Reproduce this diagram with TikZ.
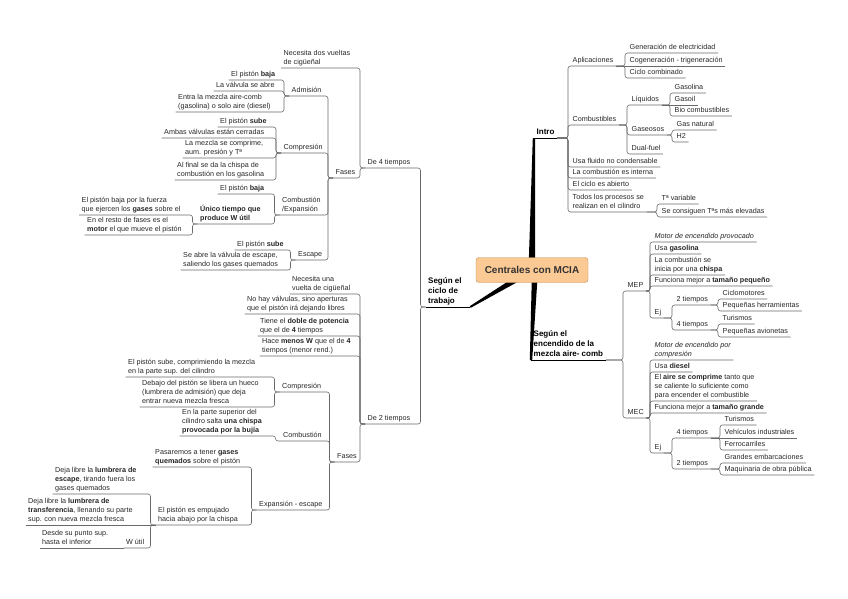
\documentclass[tikz,border=0pt]{standalone}
\usepackage{fontspec}
\setmainfont{Liberation Sans}
\usetikzlibrary{backgrounds}
\definecolor{rootfill}{HTML}{FBC994}
\definecolor{rootline}{HTML}{C08A52}
\definecolor{linkgray}{HTML}{6A6A6A}

\begin{document}
\begin{tikzpicture}[x=1pt, y=-1pt,
  topic/.style={font=\fontsize{7.2}{9}\selectfont, text=black!85, inner xsep=2.5pt, inner ysep=1.5pt,
    text depth=1.5pt, align=left, anchor=south west},
  main/.style={topic, font=\fontsize{8}{10}\selectfont\bfseries, text=black},
  root/.style={draw=rootline, fill=rootfill, rounded corners=3pt, minimum width=112pt, minimum height=25pt,
    font=\fontsize{10}{12}\selectfont\bfseries, text=black!80},
  link/.style={draw=linkgray, line width=0.6pt, rounded corners=2.5pt},
  trunk/.style={fill=black}]
  \useasboundingbox (0,0) rectangle (848,599);

  % centre and main branches
  \node[root] (root) at (532,270) {Centrales con MCIA};
  \node[main] (intro) at (534,138) {Intro};
  \node[main] (enc) at (531,360) {Según el\\encendido de la\\mezcla aire- comb};
  \node[main] (ciclo) at (425.5,307) {Según el\\ciclo de\\trabajo};

  \begin{scope}[on background layer]
    \fill[trunk] ([xshift=-3.5pt]root.center) -- ([xshift=3pt]root.center)
      -- ([xshift=1.2pt]intro.south west) -- ([xshift=-1.2pt]intro.south west) -- cycle;
    \fill[trunk] (root.center) -- ([xshift=6pt]root.center)
      -- ([xshift=1.2pt]enc.south west) -- ([xshift=-1.2pt]enc.south west) -- cycle;
    \fill[trunk] ([shift={(1.9,2.9)}]root.center) -- ([shift={(-1.9,-2.9)}]root.center)
      -- ([shift={(5.5,-0.8)}]ciclo.south east) -- ([shift={(6.5,0.8)}]ciclo.south east) -- cycle;
  \end{scope}
  \draw[link, draw=black] (intro.south west) -- (intro.south east);
  \draw[link, draw=black] (enc.south west) -- (enc.south east);
  \draw[link, draw=black] (ciclo.south west) -- ([xshift=6pt]ciclo.south east);

  % Intro
  \node[topic] (apl) at (570,66) {Aplicaciones};
  \node[topic] (comb) at (570,125) {Combustibles};
  \node[topic] (flu) at (570,167) {Usa fluido no condensable};
  \node[topic] (intc) at (570,178) {La combustión es interna};
  \node[topic] (abi) at (570,190) {El ciclo es abierto};
  \node[topic] (tod) at (570,212) {Todos los procesos se\\realizan en el cilindro};
  \foreach \kid in {apl,comb,flu,intc,abi,tod}
    \draw[link] (intro.south east) -- ([xshift=-2pt]\kid.south west |- intro.south east) |- (\kid.south east);

  \node[topic] (gen) at (627,53) {Generación de electricidad};
  \node[topic] (cog) at (627,66) {Cogeneración - trigeneración};
  \node[topic] (cic) at (627,78) {Ciclo combinado};
  \foreach \kid in {gen,cic}
    \draw[link] (apl.south east) -- ([xshift=-2pt]\kid.south west |- apl.south east) |- (\kid.south east);
  \draw[link] (apl.south east) -- (cog.south east);

  \node[topic] (liq) at (629,105) {Líquidos};
  \node[topic] (gas) at (629,135) {Gaseosos};
  \node[topic] (dual) at (629,154) {Dual-fuel};
  \foreach \kid in {liq,gas,dual}
    \draw[link] (comb.south east) -- ([xshift=-2pt]\kid.south west |- comb.south east) |- (\kid.south east);

  \node[topic] (gsl) at (672,93) {Gasolina};
  \node[topic] (gso) at (672,105) {Gasoil};
  \node[topic] (bio) at (672,116) {Bio combustibles};
  \foreach \kid in {gsl,bio}
    \draw[link] (liq.south east) -- ([xshift=-2pt]\kid.south west |- liq.south east) |- (\kid.south east);
  \draw[link] (liq.south east) -- (gso.south east);

  \node[topic] (gnat) at (674,130) {Gas natural};
  \node[topic] (h2) at (674,142) {H2};
  \foreach \kid in {gnat,h2}
    \draw[link] (gas.south east) -- ([xshift=-2pt]\kid.south west |- gas.south east) |- (\kid.south east);

  \node[topic] (tva) at (659,204) {Tª variable};
  \node[topic] (tel) at (659,217) {Se consiguen Tªs más elevadas};
  \foreach \kid in {tva,tel}
    \draw[link] (tod.south east) -- ([xshift=-2pt]\kid.south west |- tod.south east) |- (\kid.south east);

  % encendido
  \node[topic] (mep) at (625,291) {MEP};
  \node[topic] (mec) at (625,418) {MEC};
  \foreach \kid in {mep,mec}
    \draw[link] (enc.south east) -- ([xshift=-2pt]\kid.south west |- enc.south east) |- (\kid.south east);

  \node[topic] (mp1) at (652,242) {\itshape Motor de encendido provocado};
  \node[topic] (mp2) at (652,254) {Usa \textbf{gasolina}};
  \node[topic] (mp3) at (652,275) {La combustión se\\inicia por una \textbf{chispa}};
  \node[topic] (mp4) at (652,286) {Funciona mejor a \textbf{tamaño pequeño}};
  \node[topic] (mpej) at (652,318) {Ej};
  \foreach \kid in {mp1,mp2,mp3,mp4,mpej}
    \draw[link] (mep.south east) -- ([xshift=-2pt]\kid.south west |- mep.south east) |- (\kid.south east);

  \node[topic] (e2m) at (674,305) {2 tiempos};
  \node[topic] (e4m) at (674,330) {4 tiempos};
  \foreach \kid in {e2m,e4m}
    \draw[link] (mpej.south east) -- ([xshift=-2pt]\kid.south west |- mpej.south east) |- (\kid.south east);

  \node[topic] (cicl) at (720,299) {Ciclomotores};
  \node[topic] (peqh) at (720,311) {Pequeñas herramientas};
  \foreach \kid in {cicl,peqh}
    \draw[link] (e2m.south east) -- ([xshift=-2pt]\kid.south west |- e2m.south east) |- (\kid.south east);
  \node[topic] (tur1) at (720,324) {Turismos};
  \node[topic] (avi) at (720,337) {Pequeñas avionetas};
  \foreach \kid in {tur1,avi}
    \draw[link] (e4m.south east) -- ([xshift=-2pt]\kid.south west |- e4m.south east) |- (\kid.south east);

  \node[topic] (mc1) at (652,360) {\itshape Motor de encendido por\\\itshape compresión};
  \node[topic] (mc2) at (652,372) {Usa \textbf{diesel}};
  \node[topic] (mc3) at (652,401) {El \textbf{aire se comprime} tanto que\\se caliente lo suficiente como\\para encender el combustible};
  \node[topic] (mc4) at (652,413) {Funciona mejor a \textbf{tamaño grande}};
  \node[topic] (mcej) at (652,453) {Ej};
  \foreach \kid in {mc1,mc2,mc3,mc4,mcej}
    \draw[link] (mec.south east) -- ([xshift=-2pt]\kid.south west |- mec.south east) |- (\kid.south east);

  \node[topic] (f4) at (674,438) {4 tiempos};
  \node[topic] (f2) at (674,469) {2 tiempos};
  \foreach \kid in {f4,f2}
    \draw[link] (mcej.south east) -- ([xshift=-2pt]\kid.south west |- mcej.south east) |- (\kid.south east);

  \node[topic] (tur2) at (722,425) {Turismos};
  \node[topic] (veh) at (722,438) {Vehículos industriales};
  \node[topic] (fer) at (722,450) {Ferrocarriles};
  \foreach \kid in {tur2,fer}
    \draw[link] (f4.south east) -- ([xshift=-2pt]\kid.south west |- f4.south east) |- (\kid.south east);
  \draw[link] (f4.south east) -- (veh.south east);
  \node[topic] (gem) at (722,463) {Grandes embarcaciones};
  \node[topic] (maq) at (722,475) {Maquinaria de obra pública};
  \foreach \kid in {gem,maq}
    \draw[link] (f2.south east) -- ([xshift=-2pt]\kid.south west |- f2.south east) |- (\kid.south east);

  % ciclo de trabajo
  \node[topic] (d4) at (365,168) {De 4 tiempos};
  \node[topic] (d2) at (365,424) {De 2 tiempos};
  \foreach \kid in {d4,d2}
    \draw[link] (ciclo.south west) -- ++(-5pt,0) |- (\kid.south west);

  \node[topic] (nec4) at (281,68) {Necesita dos vueltas\\de cigüeñal};
  \node[topic] (fas4) at (333,178) {Fases};
  \foreach \kid in {nec4,fas4}
    \draw[link] (d4.south west) -- ++(-5pt,0) |- (\kid.south west);

  \node[topic] (adm) at (289,96) {Admisión};
  \node[topic] (comp4) at (281,153) {Compresión};
  \node[topic] (cbx) at (279.5,215) {Combustión\\/Expansión};
  \node[topic] (esc) at (295.5,260) {Escape};
  \foreach \kid in {adm,comp4,cbx,esc}
    \draw[link] (fas4.south west) -- ++(-5pt,0) |- (\kid.south west);

  \node[topic] (a1) at (228.5,80) {El pistón \textbf{baja}};
  \node[topic] (a2) at (213.5,91) {La válvula se abre};
  \node[topic] (a3) at (175.5,112) {Entra la mezcla aire-comb\\(gasolina) o solo aire (diesel)};
  \foreach \kid in {a1,a2,a3}
    \draw[link] (adm.south west) -- ++(-5pt,0) |- (\kid.south west);

  \node[topic] (c1) at (217.5,127) {El pistón \textbf{sube}};
  \node[topic] (c2) at (161.5,138) {Ambas válvulas están cerradas};
  \node[topic] (c3) at (182.5,158) {La mezcla se comprime,\\aum. presión y Tª};
  \node[topic] (c4) at (174.5,180) {Al final se da la chispa de\\combustión en los gasolina};
  \foreach \kid in {c1,c2,c3,c4}
    \draw[link] (comp4.south west) -- ++(-5pt,0) |- (\kid.south west);

  \node[topic] (x1) at (217.5,194) {El pistón \textbf{baja}};
  \node[topic] (uni) at (197.5,224) {\textbf{Único tiempo que}\\\textbf{produce W útil}};
  \foreach \kid in {x1,uni}
    \draw[link] (cbx.south west) -- ++(-5pt,0) |- (\kid.south west);

  \node[topic] (u1) at (79,215) {El pistón baja por la fuerza\\que ejercen los \textbf{gases} sobre el};
  \node[topic] (u2) at (84.5,235) {En el resto de fases es el\\\textbf{motor} el que mueve el pistón};
  \foreach \kid in {u1,u2}
    \draw[link] (uni.south west) -- ++(-5pt,0) |- (\kid.south west);

  \node[topic] (e1) at (234.5,250) {El pistón \textbf{sube}};
  \node[topic] (e2b) at (180.5,270) {Se abre la válvula de escape,\\saliendo los gases quemados};
  \foreach \kid in {e1,e2b}
    \draw[link] (esc.south west) -- ++(-5pt,0) |- (\kid.south west);

  \node[topic] (n2) at (289.5,294) {Necesita una\\vuelta de cigüeñal};
  \node[topic] (nov) at (244.5,314) {No hay válvulas, sino aperturas\\que el pistón irá dejando libres};
  \node[topic] (dob) at (257.5,336) {Tiene el \textbf{doble de potencia}\\que el de \textbf{4} tiempos};
  \node[topic] (men) at (259.5,356) {Hace \textbf{menos W} que el de \textbf{4}\\tiempos (menor rend.)};
  \node[topic] (fas2) at (334.5,462) {Fases};
  \foreach \kid in {n2,nov,dob,men,fas2}
    \draw[link] (d2.south west) -- ++(-5pt,0) |- (\kid.south west);

  \node[topic] (comp2) at (279.5,392) {Compresión};
  \node[topic] (cmb2) at (280.5,441) {Combustión};
  \node[topic] (exe) at (256.5,510) {Expansión - escape};
  \foreach \kid in {comp2,cmb2,exe}
    \draw[link] (fas2.south west) -- ++(-5pt,0) |- (\kid.south west);

  \node[topic] (s1) at (125.5,377) {El pistón sube, comprimiendo la mezcla\\en la parte sup. del cilindro};
  \node[topic] (s2) at (139.5,407) {Debajo del pistón se libera un hueco\\(lumbrera de admisión) que deja\\entrar nueva mezcla fresca};
  \foreach \kid in {s1,s2}
    \draw[link] (comp2.south west) -- ++(-5pt,0) |- (\kid.south west);

  \node[topic] (ch) at (179.5,436) {En la parte superior del\\cilindro salta \textbf{una chispa}\\\textbf{provocada por la bujía}};
  \draw[link] (cmb2.south west) -- ++(-5pt,0) |- (ch.south west);

  \node[topic] (p1) at (152.5,467) {Pasaremos a tener \textbf{gases}\\\textbf{quemados} sobre el pistón};
  \node[topic] (emp) at (155.5,525) {El pistón es empujado\\hacia abajo por la chispa};
  \foreach \kid in {p1,emp}
    \draw[link] (exe.south west) -- ++(-5pt,0) |- (\kid.south west);

  \node[topic] (l1) at (52.5,494) {Deja libre la \textbf{lumbrera de}\\\textbf{escape}, tirando fuera los\\gases quemados};
  \node[topic] (l2) at (25.5,525) {Deja libre la \textbf{lumbrera de}\\\textbf{transferencia}, llenando su parte\\sup. con nueva mezcla fresca};
  \node[topic] (wu) at (123.5,548) {W útil};
  \foreach \kid in {l1,wu}
    \draw[link] (emp.south west) -- ++(-5pt,0) |- (\kid.south west);
  \draw[link] (emp.south west) -- (l2.south west);

  \node[topic] (des) at (39.5,548) {Desde su punto sup.\\hasta el inferior};
  \draw[link] (wu.south west) -- (des.south west);
\end{tikzpicture}
\end{document}
